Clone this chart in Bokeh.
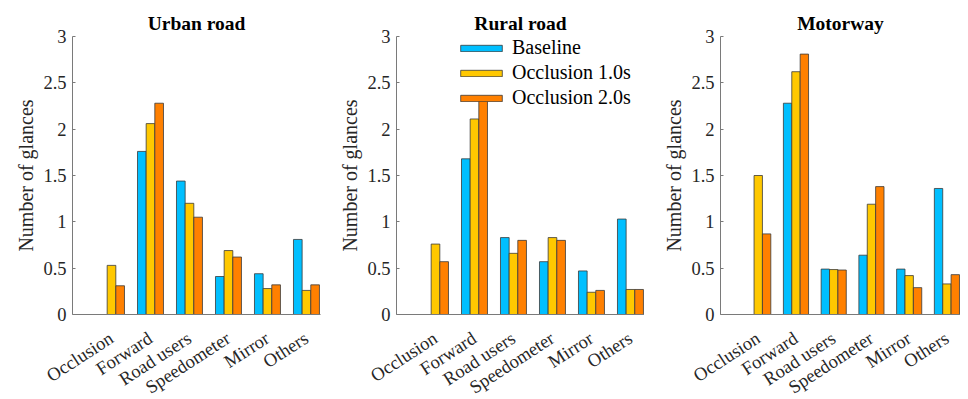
import math
from bokeh.plotting import figure
from bokeh.models import Range1d, FixedTicker, ColumnDataSource, Legend, LegendItem
from bokeh.transform import dodge
from bokeh.layouts import row
from bokeh.embed import file_html
from bokeh.resources import INLINE

categories = ["Occlusion", "Forward", "Road users", "Speedometer", "Mirror", "Others"]
series_names = ["Baseline", "Occlusion 1.0s", "Occlusion 2.0s"]
panel_titles = ["Urban road", "Rural road", "Motorway"]
y_ticks = [0, 0.5, 1, 1.5, 2, 2.5, 3]

urban_baseline = [0.0, 1.76, 1.44, 0.41, 0.44, 0.81]
urban_occ10 = [0.53, 2.06, 1.20, 0.69, 0.28, 0.26]
urban_occ20 = [0.31, 2.28, 1.05, 0.62, 0.32, 0.32]

rural_baseline = [0.0, 1.68, 0.83, 0.57, 0.47, 1.03]
rural_occ10 = [0.76, 2.11, 0.66, 0.83, 0.24, 0.27]
rural_occ20 = [0.57, 2.31, 0.80, 0.80, 0.26, 0.27]

motorway_baseline = [0.0, 2.28, 0.49, 0.64, 0.49, 1.36]
motorway_occ10 = [1.50, 2.62, 0.485, 1.19, 0.42, 0.33]
motorway_occ20 = [0.87, 2.81, 0.48, 1.38, 0.29, 0.43]

panel_data = [
    (urban_baseline, urban_occ10, urban_occ20),
    (rural_baseline, rural_occ10, rural_occ20),
    (motorway_baseline, motorway_occ10, motorway_occ20),
]

colors = ["#00bfff", "#ffc800", "#ff8000"]
offsets = [-0.222, 0.0, 0.222]
bar_width = 0.222

fig_widths = [325, 319, 316]
left_borders = [72, 71, 76]
right_borders = [5, 0, 0]

FONT = "Liberation Serif"
TXT = "#262626"
AXC = "#7a7a7a"

positions = list(range(1, len(categories) + 1))

figs = []
for i, (title, data) in enumerate(zip(panel_titles, panel_data)):
    p = figure(width=fig_widths[i], height=408, output_backend="svg",
               toolbar_location=None, tools="",
               x_range=Range1d(0, 6.36), y_range=Range1d(0, 3),
               min_border_left=left_borders[i], min_border_right=right_borders[i],
               min_border_top=36, min_border_bottom=94)
    p.title.text = title
    p.title.text_font = FONT
    p.title.text_font_size = "19.5px"
    p.title.text_font_style = "bold"
    p.title.text_color = "#000000"
    p.title.align = "center"
    p.title.standoff = 5
    p.outline_line_color = None
    p.xgrid.visible = False
    p.ygrid.visible = False
    p.background_fill_color = "white"
    p.border_fill_color = "white"

    src = ColumnDataSource(dict(x=positions, s0=list(data[0]), s1=list(data[1]), s2=list(data[2])))
    renderers = []
    for k in range(3):
        r = p.vbar(x=dodge("x", offsets[k], range=p.x_range), top=f"s{k}", width=bar_width,
                   bottom=0, source=src, fill_color=colors[k], line_color="#3a3a3a",
                   line_width=0.8)
        renderers.append(r)

    xa = p.xaxis[0]
    xa.ticker = FixedTicker(ticks=positions)
    xa.major_label_overrides = {pos: cat for pos, cat in zip(positions, categories)}
    xa.major_label_orientation = 0.576
    xa.major_label_text_font = FONT
    xa.major_label_text_font_size = "18.5px"
    xa.major_label_text_color = TXT
    xa.major_label_standoff = 22
    xa.major_tick_in = 0
    xa.major_tick_out = 0
    xa.minor_tick_in = 0
    xa.minor_tick_out = 0
    xa.axis_line_color = AXC

    ya = p.yaxis[0]
    ya.ticker = FixedTicker(ticks=y_ticks)
    ya.major_label_overrides = {t: f"{t:g}" for t in y_ticks}
    ya.major_label_text_font = FONT
    ya.major_label_text_font_size = "18.5px"
    ya.major_label_text_color = TXT
    ya.major_label_standoff = 6
    ya.major_tick_in = 3
    ya.major_tick_out = 0
    ya.minor_tick_in = 0
    ya.minor_tick_out = 0
    ya.axis_line_color = AXC
    ya.major_tick_line_color = AXC
    ya.axis_label = "Number of glances"
    ya.axis_label_text_font = FONT
    ya.axis_label_text_font_size = "20px"
    ya.axis_label_text_font_style = "normal"
    ya.axis_label_text_color = TXT
    ya.axis_label_standoff = 3

    if i == 1:
        legend = Legend(items=[LegendItem(label=series_names[k], renderers=[renderers[k]]) for k in range(3)],
                        location=(59, 205), orientation="vertical",
                        glyph_width=52, glyph_height=8, label_height=22, spacing=2,
                        label_standoff=5, padding=0, margin=0,
                        label_text_font=FONT, label_text_font_size="20px",
                        label_text_color="#000000",
                        background_fill_alpha=0, border_line_color=None)
        p.add_layout(legend)
    figs.append(p)

layout = row(*figs, spacing=0)
open("out.html", "w").write(file_html(layout, INLINE))
